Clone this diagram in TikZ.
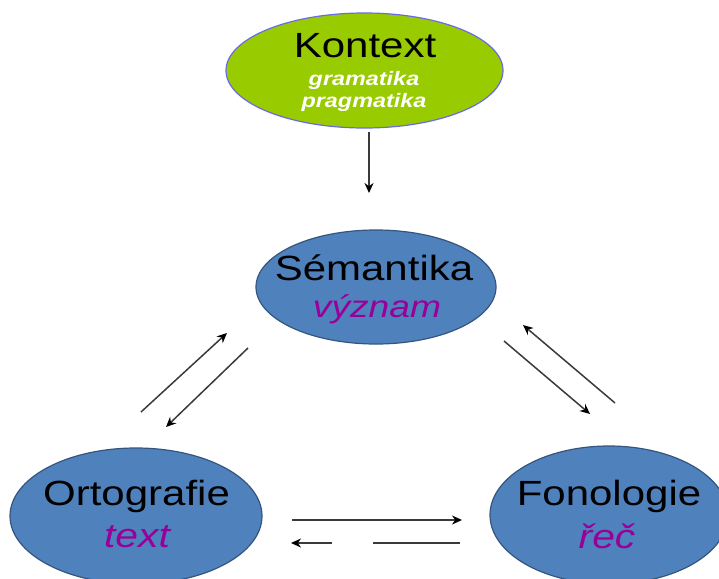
\documentclass[tikz,border=0pt]{standalone}
\usepackage{fontspec}
\usetikzlibrary{shapes.geometric,arrows.meta}
\newfontfamily\labfont{Liberation Sans}[FakeStretch=1.2]
\definecolor{kgreen}{HTML}{99CC00}
\definecolor{kborder}{HTML}{6A6AE6}
\definecolor{sblue}{HTML}{4F81BD}
\definecolor{sborder}{HTML}{34557E}
\definecolor{purp}{HTML}{990099}
\definecolor{arrgray}{HTML}{3A3A3A}
\tikzset{
  bubble/.style={ellipse, draw=sborder, line width=1.2pt, fill=sblue, inner sep=0pt},
  greenbubble/.style={ellipse, draw=kborder, line width=1.2pt, fill=kgreen, inner sep=0pt},
  maintext/.style={anchor=base, inner sep=0pt, font=\labfont\fontsize{35}{40}\selectfont, text=black},
  subtext/.style={anchor=base, inner sep=0pt, font=\labfont\itshape\fontsize{34}{40}\selectfont, text=purp},
  ctxtext/.style={anchor=base, inner sep=0pt, font=\labfont\bfseries\itshape\fontsize{19.5}{22}\selectfont, text=white},
  conn/.style={draw=arrgray, line width=1.5pt, -{Stealth[length=10pt,width=9pt,color=black,fill=black]}},
  plainconn/.style={draw=arrgray, line width=1.5pt},
}
\begin{document}
\begin{tikzpicture}[x=1pt,y=-1pt]
\useasboundingbox (0,0) rectangle (719,578);
\clip (0,0) rectangle (719,578);
% ellipses
\node[greenbubble, minimum width=277pt, minimum height=115pt] (kon) at (364.5,70.5) {};
\node[bubble, minimum width=240pt, minimum height=114pt] (sem) at (376,287) {};
\node[bubble, minimum width=252pt, minimum height=136pt] (ort) at (136,516) {};
\node[bubble, minimum width=238pt, minimum height=138pt] (fon) at (609,515) {};
% texts
\node[maintext] (kont) at (365,58) {Kontext};
\node[ctxtext] (gram) at (364,85) {gramatika};
\node[ctxtext] (prag) at (364,107) {pragmatika};
\node[maintext] (semt) at (374,280) {Sémantika};
\node[subtext, font=\labfont\itshape\fontsize{31}{36}\selectfont] (vyz) at (377,317) {význam};
\node[maintext] (ortt) at (136.5,505) {Ortografie};
\node[subtext] (txt) at (137,547) {text};
\node[maintext] (font) at (609,505) {Fonologie};
\node[subtext] (rec) at (607,548) {řeč};
% connector end points
\coordinate (k1) at (369,132);
\coordinate (k2) at (369,193);
\coordinate (a1) at (141,412);
\coordinate (a2) at (227,333);
\coordinate (b1) at (248,348);
\coordinate (b2) at (166,427);
\coordinate (c1) at (615,403);
\coordinate (c2) at (523,325);
\coordinate (d1) at (504,341);
\coordinate (d2) at (590,414);
\coordinate (e1) at (292,520);
\coordinate (e2) at (462,520);
\coordinate (f1) at (460,543);
\coordinate (f2) at (373,543);
\coordinate (f3) at (332,543);
\coordinate (f4) at (291,543);
% connectors
\draw[conn] (k1) -- (k2);
\draw[conn] (a1) -- (a2);
\draw[conn] (b1) -- (b2);
\draw[conn] (c1) -- (c2);
\draw[conn] (d1) -- (d2);
\draw[conn] (e1) -- (e2);
\draw[plainconn] (f1) -- (f2);
\draw[conn] (f3) -- (f4);
\end{tikzpicture}
\end{document}
